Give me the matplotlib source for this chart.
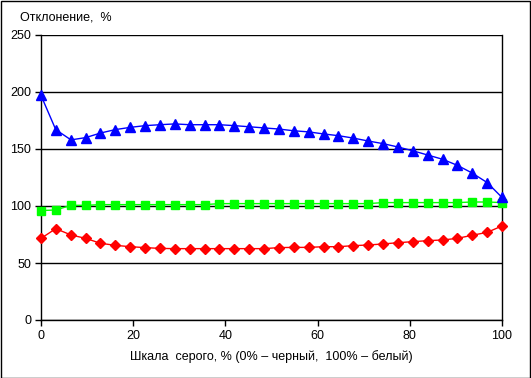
import matplotlib.pyplot as plt
from matplotlib.patches import Rectangle

# grey scale positions, %
gray = [0, 3.2, 6.5, 9.7, 12.9, 16.1, 19.4, 22.6, 25.8, 29.0, 32.3, 35.5,
        38.7, 41.9, 45.2, 48.4, 51.6, 54.8, 58.1, 61.3, 64.5, 67.7, 71.0,
        74.2, 77.4, 80.6, 83.9, 87.1, 90.3, 93.5, 96.8, 100]

blue = [197, 167, 158, 160, 164, 167, 169, 170.5, 171.3, 172, 171.3, 171.3,
        171.3, 170.5, 169.5, 168.5, 167.5, 166, 165, 163.2, 161.7, 159.6, 157,
        154.7, 151.8, 148.5, 144.7, 141, 135.7, 129, 120.5, 107.5]

green = [96, 96.5, 100.6, 100.6, 101.2, 101.2, 101.2, 101.2, 101.2, 101.2,
         101.2, 101.2, 102.1, 102.1, 102.1, 102.1, 102.1, 102.1, 102.1, 102.1,
         102.1, 102.1, 102.1, 103, 103, 103, 103, 103, 103, 103.5, 103.5, 103]

red = [71.6, 80.1, 74.6, 71.6, 67.3, 65.5, 64.3, 63.5, 62.8, 62.6, 62.6, 62.6,
       62.6, 62.6, 62.6, 62.6, 63.5, 63.7, 63.7, 64.3, 64.3, 65.2, 65.8, 66.7,
       67.8, 68.7, 69.6, 70.2, 71.6, 74.3, 76.9, 82.5]

plt.rcParams['font.family'] = ['Liberation Sans', 'DejaVu Sans']
plt.rcParams['font.size'] = 9

fig = plt.figure(figsize=(5.31, 3.78), dpi=100)
ax = fig.add_axes([41 / 531, 1 - 320 / 378, 461 / 531, 285 / 378])

ax.plot(gray, blue, color="#0000FF", lw=1, marker="^", ms=7, clip_on=False, zorder=5)
ax.plot(gray, green, color="#00FF00", lw=1, marker="s", ms=6, clip_on=False, zorder=4)
ax.plot(gray, red, color="#FF0000", lw=1, marker="D", ms=5, clip_on=False, zorder=3)

ax.set_xlim(0, 100)
ax.set_ylim(0, 250)
ax.set_xticks(range(0, 101, 20))
ax.set_yticks(range(0, 251, 50))
ax.grid(axis="y", color="black", lw=1)
ax.set_axisbelow(True)
for side in ["left", "right", "bottom"]:
    ax.spines[side].set_color("black")
    ax.spines[side].set_linewidth(1)
ax.spines["top"].set_visible(False)
ax.tick_params(direction="out", length=4, width=1, colors="black", pad=3)

ax.set_xlabel("Шкала  серого, % (0% – черный,  100% – белый)", labelpad=6)
fig.text(20 / 531, 1 - 17 / 378, "Отклонение,  %", va="center", ha="left", fontsize=9)

# outer frame of the picture
fig.patches.append(Rectangle((0.5 / 531, 0.5 / 378), 529.5 / 531, 376.5 / 378,
                             transform=fig.transFigure, fill=False,
                             edgecolor="black", lw=1))

plt.savefig("out.png", dpi=100)
plt.close()
